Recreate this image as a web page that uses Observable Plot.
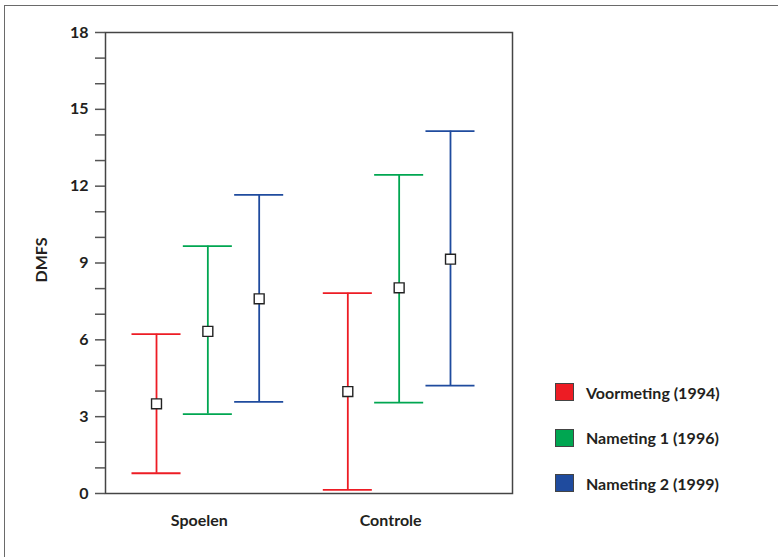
<!DOCTYPE html>
<html>
<head>
<meta charset="utf-8">
<script src="https://cdn.jsdelivr.net/npm/d3@7"></script>
<script src="https://cdn.jsdelivr.net/npm/@observablehq/plot@0.6"></script>
<style>
  html, body { margin: 0; padding: 0; background: #fff; overflow: hidden; }
  #wrap { position: relative; width: 778px; height: 557px; font-family: Lato, sans-serif; }
  #border { position: absolute; left: 4px; top: 5px; width: 900px; height: 700px; border: 1.5px solid #6a6a6a; }
  #chart { position: absolute; left: 0; top: 0; }
  #legend { position: absolute; left: 555px; top: 383px; }
  .row { display: flex; align-items: center; height: 18px; margin-bottom: 27.7px; }
  .sw { width: 17px; height: 16px; border: 1px solid #444; margin-right: 12px; }
  .lab { font-weight: 700; font-size: 16px; color: #231f20; }
</style>
</head>
<body>
<div id="wrap">
  <div id="border"></div>
  <div id="chart"></div>
  <div id="legend"></div>
</div>
<script>
const groups = ["Spoelen", "Controle"];
const series = ["Voormeting (1994)", "Nameting 1 (1996)", "Nameting 2 (1999)"];
const colors = ["#ED1C24", "#00A651", "#1F4B9E"];
const yTicks = [0, 1, 2, 3, 4, 5, 6, 7, 8, 9, 10, 11, 12, 13, 14, 15, 16, 17, 18];
const yLabel = "DMFS";
// per group, per series
const meanSpoelen = [3.5, 6.33, 7.6];
const lowSpoelen  = [0.79, 3.1, 3.58];
const highSpoelen = [6.22, 9.66, 11.66];
const meanControle = [3.98, 8.03, 9.15];
const lowControle  = [0.14, 3.55, 4.21];
const highControle = [7.82, 12.44, 14.15];

const data = [];
series.forEach((s, i) => {
  data.push({group: "Spoelen", series: s, mean: meanSpoelen[i], lo: lowSpoelen[i], hi: highSpoelen[i]});
  data.push({group: "Controle", series: s, mean: meanControle[i], lo: lowControle[i], hi: highControle[i]});
});

const common = {fx: "group", x: "series"};
const chart = Plot.plot({
  width: 778,
  height: 557,
  marginLeft: 105,
  marginRight: 266,
  marginTop: 32,
  marginBottom: 64,
  style: {fontFamily: "Lato, sans-serif", background: "transparent", color: "#231f20"},
  fx: {domain: groups, range: [126, 480], paddingInner: 0.1496, paddingOuter: 0, round: false, axis: null, label: null},
  x: {domain: series, paddingInner: 0.0448, paddingOuter: 0.107, round: false, axis: null, label: null},
  y: {domain: [0, 18], axis: null},
  color: {domain: series, range: colors},
  marks: [
    Plot.frame({facet: "super", stroke: "#444", strokeWidth: 1.5, insetLeft: -21, insetRight: -32}),
    Plot.axisY({ticks: yTicks, tickSize: 10, tickPadding: 7, dx: -21, tickFormat: d => d % 3 === 0 ? String(d) : "",
      fontSize: 16, fontWeight: 700, stroke: "#555", strokeWidth: 1.5, label: null}),
    Plot.text([yLabel], {facet: "super", frameAnchor: "left", rotate: -90, dx: -85, dy: -3,
      fontSize: 16, fontWeight: 700, textAnchor: "middle", lineAnchor: "middle", fill: "#231f20"}),
    Plot.axisFx({anchor: "bottom", tickSize: 0, tickPadding: 21, dx: -8.5, fontSize: 16, fontWeight: 700, label: null}),
    Plot.ruleX(data, {...common, y1: "lo", y2: "hi", stroke: "series", strokeWidth: 1.8}),
    Plot.tickY(data, {...common, y: "lo", stroke: "series", strokeWidth: 1.8}),
    Plot.tickY(data, {...common, y: "hi", stroke: "series", strokeWidth: 1.8}),
    Plot.dot(data, {...common, y: "mean", symbol: "square", r: 5.6, fill: "white", stroke: "#222", strokeWidth: 1.4})
  ]
});
document.getElementById("chart").appendChild(chart);

const legend = document.getElementById("legend");
series.forEach((s, i) => {
  const row = document.createElement("div");
  row.className = "row";
  const sw = document.createElement("div");
  sw.className = "sw";
  sw.style.background = colors[i];
  const lab = document.createElement("span");
  lab.className = "lab";
  lab.textContent = s;
  row.appendChild(sw);
  row.appendChild(lab);
  legend.appendChild(row);
});
</script>
</body>
</html>
